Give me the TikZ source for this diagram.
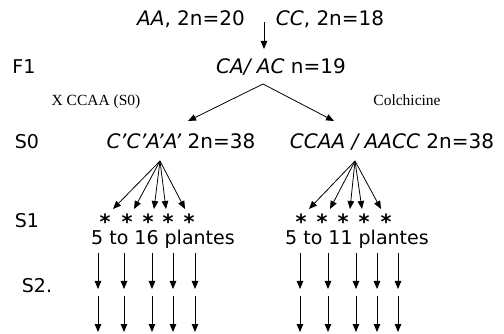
\documentclass[tikz,border=0pt]{standalone}
\usepackage{fontspec}
\setmainfont{DejaVu Sans}
\newfontfamily\notefont{Liberation Serif}
\usetikzlibrary{arrows.meta}

\tikzset{
  gen/.style={font=\fontsize{20}{24}\selectfont, inner sep=0pt, anchor=base},
  lab/.style={font=\fontsize{19}{22}\selectfont, inner sep=0pt, anchor=base},
  note/.style={font=\notefont\fontsize{15.5}{18}\selectfont, inner sep=0pt, anchor=base},
  starmark/.style={font=\bfseries\fontsize{21}{21}\selectfont, inner sep=0pt, anchor=base},
  arr/.style={-{Triangle[length=8pt, width=6.5pt]}, line width=0.8pt},
}

\begin{document}
\begin{tikzpicture}[x=1pt, y=-1pt]
  \useasboundingbox (0,0) rectangle (504,334);

  % --- Parents and cross ---
  \node[gen] (aa) at (191,26) {\textit{AA}, 2n=20};
  \node[gen] (cc) at (330,26) {\textit{CC}, 2n=18};
  \coordinate (crossTop) at (264,22);
  \coordinate (crossBot) at (264,49);
  \draw[arr] (crossTop) -- (crossBot);

  % --- F1 ---
  \node[lab] (f1lab) at (24,74) {F1};
  \node[gen] (f1) at (281,74) {\textit{CA/ AC} n=19};
  \coordinate (split) at (263,84);
  \coordinate (leftEnd) at (188,121);
  \coordinate (rightEnd) at (334,121);
  \draw[arr] (split) -- (leftEnd);
  \draw[arr] (split) -- (rightEnd);

  \node[note] (xcross) at (96,106) {X CCAA (S0)};
  \node[note] (colch) at (407,106) {Colchicine};

  % --- S0 ---
  \node[lab] (s0lab) at (27,149) {S0};
  \node[gen] (s0left) at (181,149) {\textit{C'C'A'A'} 2n=38};
  \node[gen] (s0right) at (392,149) {\textit{CCAA / AACC} 2n=38};

  % --- S1: fans to single plants ---
  \node[lab] (s1lab) at (27,228) {S1};
  \coordinate (lapex) at (160,161);
  \coordinate (rapex) at (355,161);
  \foreach \x [count=\i] in {113,134,154,166,185}
    \draw[arr] (lapex) -- (\x,209) coordinate (ltip\i);
  \foreach \x [count=\i] in {309,330,350,362,381}
    \draw[arr] (rapex) -- (\x,209) coordinate (rtip\i);

  \foreach \x [count=\i] in {105,127,148,168,189}
    \node[starmark] (lstar\i) at (\x,230) {*};
  \foreach \x [count=\i] in {301,322,343,364,386}
    \node[starmark] (rstar\i) at (\x,230) {*};

  \node[lab] (lplants) at (163,245) {5 to 16 plantes};
  \node[lab] (rplants) at (357,245) {5 to 11 plantes};

  % --- S2 and further selfing ---
  \node[lab] (s2lab) at (37,293) {S2.};
  \foreach \x [count=\i] in {98,124,152,173,195,300,328,356,377,398} {
    \coordinate (ua\i) at (\x,253);
    \coordinate (ub\i) at (\x,289);
    \coordinate (va\i) at (\x,296);
    \coordinate (vb\i) at (\x,332);
    \draw[arr] (ua\i) -- (ub\i);
    \draw[arr] (va\i) -- (vb\i);
  }

\end{tikzpicture}
\end{document}
